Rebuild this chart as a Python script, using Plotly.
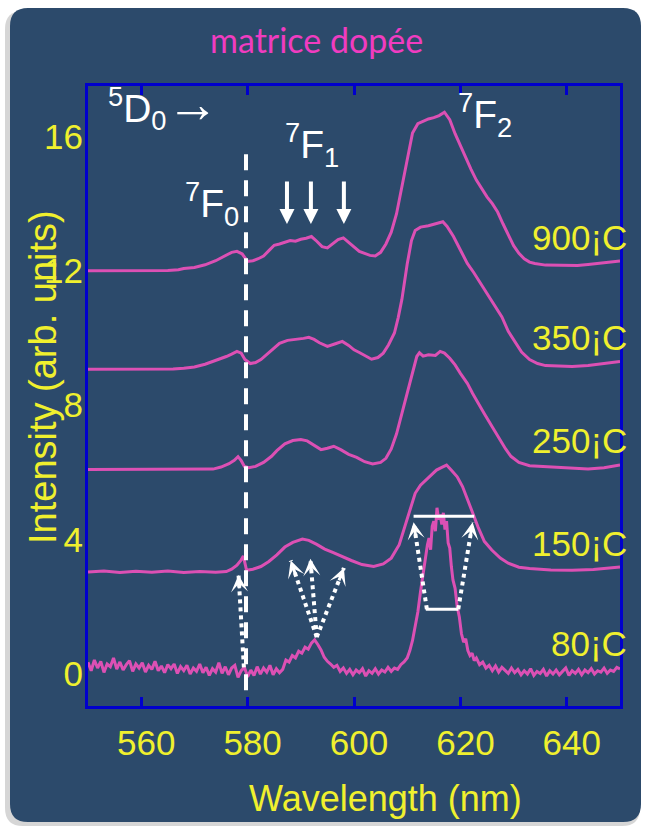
import plotly.graph_objects as go

# ---------------- data ----------------
wl_900 = [550, 555, 560, 565, 567, 568, 570, 572, 574, 575.5, 577, 578, 579, 580, 581, 582, 583, 584, 585, 586,
          587, 588, 589, 590, 591, 592, 593, 594, 595, 596, 597, 598, 599, 600, 601, 602, 603, 604, 605, 606,
          607, 608, 609, 610, 611, 612, 613, 614, 615, 616, 617, 618, 619, 620, 621, 622, 623, 624, 625, 626,
          627, 628, 629, 630, 631, 632, 633, 634, 636, 638, 640, 642, 644, 646, 648, 650]
int_900 = [12.00, 12.00, 12.00, 12.01, 12.03, 12.07, 12.10, 12.18, 12.30, 12.42, 12.55, 12.58, 12.50, 12.28, 12.30,
           12.36, 12.44, 12.60, 12.76, 12.80, 12.86, 12.90, 12.88, 12.94, 12.97, 13.02, 12.88, 12.72, 12.68, 12.82,
           12.93, 12.98, 12.84, 12.70, 12.58, 12.52, 12.46, 12.44, 12.55, 12.80, 13.15, 13.70, 14.50, 15.40, 16.10,
           16.38, 16.45, 16.52, 16.56, 16.62, 16.72, 16.50, 16.08, 15.72, 15.40, 15.02, 14.70, 14.45, 14.20, 14.00,
           13.75, 13.40, 13.05, 12.75, 12.52, 12.36, 12.26, 12.22, 12.17, 12.16, 12.15, 12.16, 12.19, 12.22, 12.26,
           12.29]

wl_350 = [550, 560, 566, 568, 570, 572, 574, 576, 577, 578, 578.8, 579.5, 580.5, 581.5, 582.5, 583.5, 584.5, 586,
          587.5, 589, 590.5, 591.5, 592.5, 593.5, 595, 596.5, 597.8, 599, 600, 601, 602, 603.3, 604.5, 605.5, 606.5,
          607.6, 608.3, 609, 610, 610.8, 611.5, 612.5, 614, 615, 616.7, 617.5, 618.7, 620, 621.3, 622.5, 623.5,
          624.6, 626, 627.8, 629, 630.4, 631.5, 633, 634.5, 636, 638, 641, 644, 647, 650]
int_350 = [9.07, 9.07, 9.08, 9.10, 9.14, 9.22, 9.33, 9.45, 9.52, 9.60, 9.55, 9.36, 9.24, 9.27, 9.36, 9.50, 9.65,
           9.84, 9.93, 9.95, 9.99, 10.02, 9.96, 9.86, 9.75, 9.83, 9.90, 9.78, 9.65, 9.57, 9.48, 9.37, 9.42, 9.55,
           9.80, 10.15, 10.60, 11.15, 12.20, 12.90, 13.20, 13.30, 13.34, 13.38, 13.46, 13.32, 13.02, 12.62, 12.22,
           11.95, 11.70, 11.43, 11.10, 10.63, 10.20, 9.84, 9.58, 9.36, 9.24, 9.18, 9.16, 9.15, 9.18, 9.24, 9.30]

wl_250 = [550, 560, 570, 573.5, 575, 576.5, 577.5, 578.2, 578.8, 579.4, 580.2, 581.5, 583, 584.5, 585.5, 587,
          588.5, 590, 591.2, 592.5, 593.8, 595, 596.2, 597.5, 599, 600.5, 602, 603.5, 605, 606, 607, 608, 609,
          610, 611, 611.8, 612.3, 613, 614, 615.3, 616.2, 617, 618, 619, 620, 621.3, 622.3, 623.3, 624.5, 626,
          627.5, 628.5, 629.5, 631, 633, 636, 640, 644, 647, 650]
int_250 = [6.09, 6.09, 6.09, 6.10, 6.16, 6.26, 6.36, 6.47, 6.35, 6.18, 6.14, 6.18, 6.30, 6.48, 6.65, 6.85, 6.95,
           6.98, 6.94, 6.82, 6.68, 6.72, 6.78, 6.68, 6.54, 6.45, 6.32, 6.25, 6.30, 6.42, 6.70, 7.15, 7.75, 8.35,
           9.00, 9.45, 9.56, 9.46, 9.50, 9.48, 9.60, 9.55, 9.40, 9.20, 8.95, 8.65, 8.35, 8.06, 7.75, 7.35, 6.95,
           6.70, 6.48, 6.30, 6.20, 6.17, 6.12, 6.10, 6.14, 6.22]

wl_150 = [550, 553, 556, 559, 562, 565, 568, 571, 574, 576, 577, 578, 578.8, 579.2, 579.5, 579.8, 581, 582.5, 584,
          585.5, 587, 588.5, 590.3, 591.5, 593, 594.5, 596, 597.8, 599.5, 601.5, 603.7, 605.5, 607, 608.5, 609.5,
          610.5, 611.5, 612.5, 613.5, 614.5, 615.5, 616.5, 617.4, 618.4, 619.4, 620.4, 621.3, 622.3, 623.3, 624.5,
          625.9, 627.5, 629, 631, 633, 637, 641, 645, 650]
int_150 = [3.04, 3.07, 3.02, 3.06, 3.03, 3.07, 3.02, 3.05, 3.03, 3.05, 3.12, 3.24, 3.40, 3.51, 3.30, 3.09, 3.12,
           3.20, 3.35, 3.55, 3.78, 3.92, 4.02, 3.98, 3.86, 3.72, 3.62, 3.49, 3.38, 3.26, 3.20, 3.28, 3.45, 3.85,
           4.35, 4.90, 5.38, 5.62, 5.77, 5.92, 6.07, 6.15, 6.22, 6.05, 5.87, 5.58, 5.23, 4.80, 4.38, 3.95, 3.69,
           3.45, 3.30, 3.18, 3.14, 3.10, 3.09, 3.11, 3.19]

wl_80 = [550.0, 550.6, 551.2, 551.8, 552.4, 553.0, 553.6, 554.2, 554.8, 555.4, 556.0, 556.6, 557.2, 557.8, 558.4,
         559.0, 559.6, 560.2, 560.8, 561.4, 562.0, 562.6, 563.2, 563.8, 564.4, 565.0, 565.6, 566.2, 566.8, 567.4,
         568.0, 568.6, 569.2, 569.8, 570.4, 571.0, 571.6, 572.2, 572.8, 573.4, 574.0, 574.6, 575.2, 575.8, 576.4,
         577.0, 577.6, 578.2, 578.8, 579.4, 580.0, 580.6, 581.2, 581.8, 582.4, 583.0, 583.6, 584.2, 584.8, 585.4,
         586.0, 586.6, 587.2, 587.8, 588.4, 589.0, 589.6, 590.2, 590.8, 591.4, 592.0, 592.6, 593.2, 593.8, 594.4,
         595.0, 595.6, 596.2, 596.8, 597.4, 598.0, 598.6, 599.2, 599.8, 600.4, 601.0, 601.6, 602.2, 602.8, 603.4,
         604.0, 604.6, 605.2, 605.8, 606.4, 607.0, 607.6, 608.2, 608.8, 609.4, 610.0, 610.5, 611.0, 611.5, 612.0,
         612.5, 613.0, 613.4, 613.8, 614.1, 614.4, 614.7, 615.0, 615.3, 615.6, 615.9, 616.2, 616.5, 616.8, 617.1,
         617.4, 617.7, 618.0, 618.3, 618.6, 619.0, 619.4, 619.8, 620.2, 620.6, 621.0, 621.4, 621.8, 622.2, 622.6,
         623.0, 623.6, 624.2, 624.8, 625.4, 626.0, 626.6, 627.2, 627.8, 628.4, 629.0, 629.6, 630.2, 630.8, 631.4,
         632.0, 632.6, 633.2, 633.8, 634.4, 635.0, 635.6, 636.2, 636.8, 637.4, 638.0, 638.6, 639.2, 639.8, 640.4,
         641.0, 641.6, 642.2, 642.8, 643.4, 644.0, 644.6, 645.2, 645.8, 646.4, 647.0, 647.6, 648.2, 648.8, 649.4,
         650.0]
int_80 = [0.35, 0.10, 0.42, 0.18, 0.38, 0.05, 0.30, 0.22, 0.48, 0.15, 0.36, 0.12, 0.28, 0.40, 0.08,
          0.30, 0.18, 0.34, 0.06, 0.26, 0.14, 0.38, 0.10, 0.24, 0.04, 0.28, 0.16, 0.30, 0.02, 0.22,
          0.10, 0.26, 0.00, 0.18, 0.08, 0.30, 0.04, 0.20, -0.04, 0.16, 0.06, 0.34, 0.02, 0.22, -0.02,
          0.18, 0.26, -0.10, 0.10, 0.20, -0.08, 0.12, -0.04, 0.22, 0.00, 0.18, 0.06, 0.26, -0.02, 0.16,
          0.04, 0.14, 0.42, 0.36, 0.55, 0.48, 0.68, 0.62, 0.80, 0.74, 0.92, 1.02, 0.88, 0.72, 0.50,
          0.38, 0.30, 0.20, 0.26, 0.08, 0.18, 0.02, 0.14, -0.02, 0.12, 0.04, 0.16, -0.06, 0.10, 0.02,
          0.16, 0.00, 0.12, 0.06, 0.20, 0.08, 0.18, 0.14, 0.28, 0.36, 0.48, 0.70, 1.00, 1.40, 1.85,
          2.45, 3.00, 3.50, 3.85, 4.05, 3.70, 4.40, 4.55, 4.25, 4.95, 4.60, 4.75, 4.45, 4.80, 4.30,
          4.55, 3.90, 3.75, 3.20, 2.80, 2.55, 2.00, 1.70, 1.20, 0.95, 1.05, 0.70, 0.55, 0.62, 0.40,
          0.48, 0.28, 0.36, 0.18, 0.26, 0.10, 0.24, 0.06, 0.20, 0.12, 0.02, 0.18, 0.04, 0.14, -0.02,
          0.10, 0.00, 0.16, -0.04, 0.08, 0.02, 0.14, -0.06, 0.10, 0.00, 0.12, -0.02, 0.08, 0.18, -0.04,
          0.10, 0.02, 0.14, -0.02, 0.12, 0.04, 0.16, 0.00, 0.10, 0.06, 0.18, 0.02, 0.12, 0.08, 0.20,
          0.15]

series_wl = [wl_900, wl_350, wl_250, wl_150, wl_80]
series_int = [int_900, int_350, int_250, int_150, int_80]
temp_labels = ["900¡C", "350¡C", "250¡C", "150¡C", "80¡C"]
temp_label_y = [13.0, 10.03, 6.96, 3.9, 0.92]

x_ticks = [560, 580, 600, 620, 640]
y_ticks = [0, 4, 8, 12, 16]

f1_arrow_wl = [587.4, 591.9, 598.1]
f0_line_wl = 579.7

# dotted arrows: (tail wl, tail I, head wl, head I)
dotted_arrows = [(579.3, 0.2, 578.3, 2.95),
                 (593.0, 1.1, 588.1, 3.38),
                 (593.0, 1.1, 591.8, 3.43),
                 (593.0, 1.1, 598.1, 3.16),
                 (613.7, 1.93, 611.2, 4.52),
                 (619.6, 1.93, 622.3, 4.52)]
bar_top = (611.2, 622.6, 4.70)
bar_bottom = (613.5, 619.6, 1.93)

# ---------------- styling ----------------
PINK = "#DC50B4"
YELLOW = "#F0F02E"
BLUE = "#0000CC"
PANEL = "#2C4A6B"
FONT = "Liberation Sans"
W, H = 646, 827
ML, MR, MT, MB = 88, 26, 86, 121
PW, PH = W - ML - MR, H - MT - MB
XR = [550, 650]
YR = [-0.95, 17.5]


def px(x):
    return (x - ML) / PW


def py(y):
    return (H - MB - y) / PH


fig = go.Figure()
for wl, it in zip(series_wl, series_int):
    fig.add_trace(go.Scatter(x=wl, y=it, mode="lines", line=dict(color=PINK, width=3),
                             showlegend=False, hoverinfo="skip"))

shapes = []


def rounded(x0, y0, x1, y1, r):
    X0, X1 = px(x0), px(x1)
    Y0, Y1 = py(y0), py(y1)
    rx, ry = r / PW, r / PH
    return (f"M {X0+rx},{Y0} L {X1-rx},{Y0} Q {X1},{Y0} {X1},{Y0-ry} "
            f"L {X1},{Y1+ry} Q {X1},{Y1} {X1-rx},{Y1} L {X0+rx},{Y1} Q {X0},{Y1} {X0},{Y1+ry} "
            f"L {X0},{Y0-ry} Q {X0},{Y0} {X0+rx},{Y0} Z")


shapes.append(dict(type="path", xref="paper", yref="paper", path=rounded(5, 11, 640, 826, 18),
                   fillcolor="rgba(120,120,120,0.30)", line=dict(width=0), layer="below"))
shapes.append(dict(type="path", xref="paper", yref="paper", path=rounded(10, 8, 641, 822, 18),
                   fillcolor=PANEL, line=dict(width=0), layer="below"))
# dashed vertical line
shapes.append(dict(type="line", x0=f0_line_wl, x1=f0_line_wl, y0=-0.48, y1=15.75, xref="x", yref="y",
                   line=dict(color="white", width=4, dash="16px,10px")))
# dotted arrow shafts
for tw, ti, hw, hi in dotted_arrows:
    shapes.append(dict(type="line", x0=tw, y0=ti, x1=hw, y1=hi, xref="x", yref="y",
                       line=dict(color="white", width=4, dash="4px,4px")))
# bars
shapes.append(dict(type="line", x0=bar_top[0], x1=bar_top[1], y0=bar_top[2], y1=bar_top[2],
                   xref="x", yref="y", line=dict(color="white", width=3)))
shapes.append(dict(type="line", x0=bar_bottom[0], x1=bar_bottom[1], y0=bar_bottom[2], y1=bar_bottom[2],
                   xref="x", yref="y", line=dict(color="white", width=3)))

ann = []
ppn = PW / (XR[1] - XR[0])
ppu = PH / (YR[1] - YR[0])
for tw, ti, hw, hi in dotted_arrows:
    dx = (hw - tw) * ppn
    dy = -(hi - ti) * ppu
    L = (dx * dx + dy * dy) ** 0.5
    ann.append(dict(x=hw, y=hi, xref="x", yref="y", ax=-dx / L * 15, ay=-dy / L * 15,
                    showarrow=True, arrowhead=3, arrowsize=0.95, arrowwidth=3, arrowcolor="white", text=""))
for w in f1_arrow_wl:
    ann.append(dict(x=w, y=13.39, xref="x", yref="y", ax=w, ay=14.7, axref="x", ayref="y",
                    showarrow=True, arrowhead=2, arrowsize=0.75, arrowwidth=4, arrowcolor="white", text=""))

LBL = dict(family=FONT, size=39, color="white")
ann.append(dict(x=px(106), y=py(106), xref="paper", yref="paper", xanchor="left", yanchor="middle",
                text="<sup>5</sup>D<sub>0</sub><span style='font-size:52px'>→</span>", showarrow=False, font=LBL))
ann.append(dict(x=px(212), y=py(204), xref="paper", yref="paper", xanchor="center", yanchor="middle",
                text="<sup>7</sup>F<sub>0</sub>", showarrow=False, font=LBL))
ann.append(dict(x=px(312), y=py(145), xref="paper", yref="paper", xanchor="center", yanchor="middle",
                text="<sup>7</sup>F<sub>1</sub>", showarrow=False, font=LBL))
ann.append(dict(x=px(485), y=py(115), xref="paper", yref="paper", xanchor="center", yanchor="middle",
                text="<sup>7</sup>F<sub>2</sub>", showarrow=False, font=LBL))

for t, yv in zip(temp_labels, temp_label_y):
    ann.append(dict(x=px(629), y=yv, xref="paper", yref="y", xanchor="right", yanchor="middle",
                    text=t, showarrow=False, font=dict(family=FONT, size=35, color=YELLOW)))

ann.append(dict(x=px(316), y=py(40), xref="paper", yref="paper", xanchor="center", yanchor="middle",
                text="matrice dopée", showarrow=False, font=dict(family="Lato", size=34, color="#F03CC0")))
ann.append(dict(x=px(385), y=py(798), xref="paper", yref="paper", xanchor="center", yanchor="middle",
                text="Wavelength (nm)", showarrow=False, font=dict(family=FONT, size=36, color=YELLOW)))
ann.append(dict(x=px(43), y=py(377), xref="paper", yref="paper", xanchor="center", yanchor="middle",
                text="Intensity (arb. units)", textangle=-90, showarrow=False,
                font=dict(family=FONT, size=38, color=YELLOW)))

fig.update_layout(
    width=W, height=H, autosize=False,
    margin=dict(l=ML, r=MR, t=MT, b=MB),
    paper_bgcolor="white", plot_bgcolor="rgba(0,0,0,0)",
    shapes=shapes, annotations=ann,
    xaxis=dict(range=XR, tickvals=x_ticks, ticks="inside", ticklen=9, tickwidth=3, tickcolor=BLUE,
               showline=True, linewidth=3, linecolor=BLUE, mirror="ticks", showgrid=False, zeroline=False,
               tickfont=dict(family=FONT, size=35, color=YELLOW),
               ticklabelstandoff=4, ticklabelshift=5),
    yaxis=dict(range=YR, tickvals=y_ticks, ticks="", showline=True, linewidth=3, linecolor=BLUE,
               mirror=True, showgrid=False, zeroline=False,
               tickfont=dict(family=FONT, size=35, color=YELLOW),
               ticklabelstandoff=-5),
)

fig.write_html("out.html")
